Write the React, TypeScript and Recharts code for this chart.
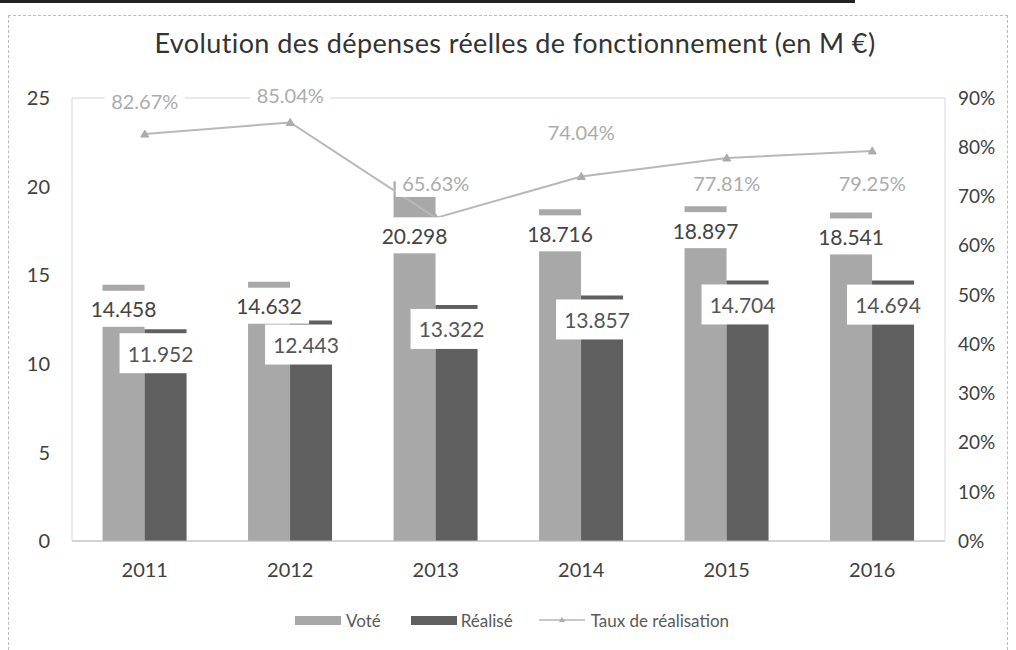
import React from 'react';
import { ComposedChart, Bar, Line, XAxis, YAxis, CartesianGrid, Legend, LabelList } from 'recharts';

const categories = ['2011', '2012', '2013', '2014', '2015', '2016'];
const vote = [14.458, 14.632, 20.298, 18.716, 18.897, 18.541];
const realise = [11.952, 12.443, 13.322, 13.857, 14.704, 14.694];
const taux = [0.8267, 0.8504, 0.6563, 0.7404, 0.7781, 0.7925];
const leftTicks = [0, 5, 10, 15, 20, 25];
const rightTicks = [0, 0.1, 0.2, 0.3, 0.4, 0.5, 0.6, 0.7, 0.8, 0.9];

const data = categories.map((c, i) => ({ year: c, vote: vote[i], realise: realise[i], taux: taux[i] }));

// label layout tweaks (style only)
const voteLabelShift = [0, 0, 30, 0, 0, 0];
const tauxLabelShift = [-33, -27, -35, -45, 25, 32];

const FONT = 'Lato, "Open Sans", sans-serif';

const VoteLabel = (p: any) => {
  const { x, y, width, value, index } = p;
  const cx = x + width / 2;
  const top = y + 6 + voteLabelShift[index];
  return (
    <g>
      <rect x={cx - 40} y={top} width={80} height={36} fill="#fff" />
      <text x={cx} y={top + 18} textAnchor="middle" dominantBaseline="central" fontSize={21} fill="#444" fontFamily={FONT}>
        {Number(value).toFixed(3)}
      </text>
    </g>
  );
};

const RealiseLabel = (p: any) => {
  const { x, y, width, value } = p;
  const cx = x + width / 2 - 5;
  const top = y + 4;
  return (
    <g>
      <rect x={cx - 41} y={top} width={82} height={40} fill="#fff" />
      <text x={cx} y={top + 20} textAnchor="middle" dominantBaseline="central" fontSize={21} fill="#555" fontFamily={FONT}>
        {Number(value).toFixed(3)}
      </text>
    </g>
  );
};

const TauxLabel = (p: any) => {
  const { x, y, value, index } = p;
  const cy = y + tauxLabelShift[index];
  return (
    <g>
      <rect x={x - 40} y={cy - 14} width={80} height={28} fill="#fff" />
      <text x={x} y={cy} textAnchor="middle" dominantBaseline="central" fontSize={20} fill="#ababab" fontFamily={FONT}>
        {(Number(value) * 100).toFixed(2) + '%'}
      </text>
    </g>
  );
};

const TriDot = (p: any) => {
  const { cx, cy } = p;
  if (cx == null || cy == null) return null;
  return <path d={`M${cx},${cy - 4} L${cx + 4},${cy + 3} L${cx - 4},${cy + 3} Z`} fill="#ababab" stroke="#ababab" />;
};

const LegendContent = () => (
  <div style={{ display: 'flex', justifyContent: 'center', alignItems: 'center', height: 40, fontFamily: FONT, fontSize: 17, color: '#595959', paddingLeft: 8 }}>
    <span style={{ display: 'inline-block', width: 46, height: 9, background: '#a8a8a8', marginRight: 5 }} />
    <span style={{ marginRight: 30 }}>Voté</span>
    <span style={{ display: 'inline-block', width: 46, height: 9, background: '#5f5f5f', marginRight: 4 }} />
    <span style={{ marginRight: 26 }}>Réalisé</span>
    <svg width={46} height={10} style={{ marginRight: 6 }}>
      <line x1={0} y1={5} x2={46} y2={5} stroke="#b4b4b4" strokeWidth={1.5} />
      <path d="M23,2 L26,7 L20,7 Z" fill="#ababab" />
    </svg>
    <span>Taux de réalisation</span>
  </div>
);

export default function App() {
  return (
    <div style={{ position: 'absolute', left: 0, top: 0, width: 1016, height: 650, background: '#fff' }}>
      <div style={{ position: 'absolute', left: 0, top: 0, width: 855, height: 3, background: '#222' }} />
      <div style={{ position: 'absolute', left: 8, top: 15, width: 1000, height: 640, border: '1px dashed #bbb', boxSizing: 'border-box' }} />
      <div style={{ position: 'absolute', left: 0, top: 26, width: 1030, textAlign: 'center', fontFamily: FONT, fontSize: 27, letterSpacing: 0.4, color: '#333' }}>
        Evolution des dépenses réelles de fonctionnement (en M €)
      </div>
      <div style={{ position: 'absolute', left: 0, top: 0 }}>
        <ComposedChart width={1016} height={650} data={data} margin={{ top: 98, right: 0, left: 0, bottom: 10 }} barCategoryGap="21%" barGap={0}>
          <CartesianGrid vertical={false} stroke="#d4d4d4" />
          <XAxis dataKey="year" height={59} tickLine={false} tickSize={0} tickMargin={22} axisLine={{ stroke: '#bfbfbf' }} tick={{ fontSize: 20, fill: '#404040', fontFamily: FONT }} />
          <YAxis yAxisId="left" orientation="left" width={72} domain={[0, 25]} ticks={leftTicks} tickLine={false} tickSize={0} tickMargin={22} axisLine={{ stroke: '#d9d9d9' }} tick={{ fontSize: 20, fill: '#404040', fontFamily: FONT }} />
          <YAxis yAxisId="right" orientation="right" width={71} domain={[0, 0.9]} ticks={rightTicks} tickLine={false} tickSize={0} tickMargin={13} axisLine={{ stroke: '#d9d9d9' }} tickFormatter={(v: number) => Math.round(v * 100) + '%'} tick={{ fontSize: 19, fill: '#404040', fontFamily: FONT }} />
          <Bar yAxisId="left" dataKey="vote" name="Voté" fill="#a8a8a8" isAnimationActive={false}>
            <LabelList dataKey="vote" content={VoteLabel} />
          </Bar>
          <Bar yAxisId="left" dataKey="realise" name="Réalisé" fill="#5f5f5f" isAnimationActive={false}>
            <LabelList dataKey="realise" content={RealiseLabel} />
          </Bar>
          <Line yAxisId="right" dataKey="taux" name="Taux de réalisation" stroke="#b8b8b8" strokeWidth={2} dot={TriDot} activeDot={false} isAnimationActive={false}>
            <LabelList dataKey="taux" content={TauxLabel} />
          </Line>
          <Legend verticalAlign="bottom" height={40} content={LegendContent} wrapperStyle={{ height: 40 }} />
        </ComposedChart>
      </div>
    </div>
  );
}
